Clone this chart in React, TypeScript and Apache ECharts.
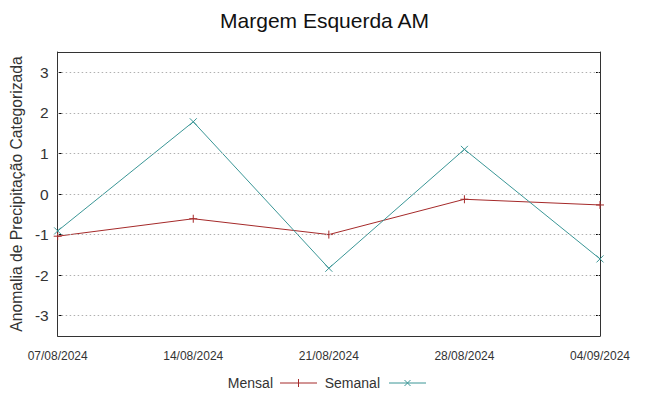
import React, { useEffect, useRef } from "react";
import * as echarts from "echarts";

const categories = ["07/08/2024", "14/08/2024", "21/08/2024", "28/08/2024", "04/09/2024"];
const mensal = [-1.04, -0.61, -1.0, -0.13, -0.27];
const semanal = [-0.91, 1.78, -1.83, 1.1, -1.6];
const yTicks = [-3, -2, -1, 0, 1, 2, 3];

const RED = "#a52a2a";
const TEAL = "#3a9696";
const FONT = "Liberation Sans, Arial, sans-serif";
const PLUS = "path://M0,5L10,5M5,0L5,10";
const CROSS = "path://M0,0L10,10M0,10L10,0";

export default function App() {
  const ref = useRef<HTMLDivElement>(null);
  useEffect(() => {
    const chart = echarts.init(ref.current!, null, { renderer: "svg" });
    chart.setOption({
      animation: false,
      textStyle: { fontFamily: FONT },
      title: {
        text: "Margem Esquerda AM",
        left: "center",
        top: 5,
        textStyle: { fontFamily: FONT, fontSize: 21, fontWeight: "normal", color: "#111" },
      },
      grid: { left: 50, right: 49, top: 52, bottom: 60 },
      xAxis: [
        {
          type: "category",
          data: categories,
          boundaryGap: false,
          axisLine: { onZero: false, lineStyle: { color: "#333", width: 1 } },
          axisTick: { show: false },
          axisLabel: { color: "#333", fontSize: 12, margin: 14, fontFamily: FONT },
          splitLine: { show: false },
        },
        {
          type: "category",
          data: categories,
          position: "top",
          boundaryGap: false,
          axisLine: { show: true, onZero: false, lineStyle: { color: "#333", width: 1 } },
          axisTick: { show: false },
          axisLabel: { show: false },
        },
      ],
      yAxis: [
        {
          type: "value",
          min: -3.5,
          max: 3.5,
          name: "Anomalia de Precipitação Categorizada",
          nameLocation: "middle",
          nameGap: 25,
          nameTextStyle: { fontSize: 15.7, color: "#333", fontFamily: FONT },
          axisLine: { show: true, onZero: false, lineStyle: { color: "#333", width: 1 } },
          axisTick: { show: true, inside: true, length: 4, customValues: yTicks, lineStyle: { color: "#000" } },
          axisLabel: { color: "#333", fontSize: 15.5, margin: 9, customValues: yTicks, fontFamily: FONT },
          splitLine: { show: false },
        },
        {
          type: "value",
          min: -3.5,
          max: 3.5,
          position: "right",
          axisLine: { show: true, onZero: false, lineStyle: { color: "#333", width: 1 } },
          axisTick: { show: true, inside: true, length: 4, customValues: yTicks, lineStyle: { color: "#000" } },
          axisLabel: { show: false },
          splitLine: { show: false },
        },
      ],
      series: [
        {
          name: "grid",
          type: "line",
          data: [],
          silent: true,
          markLine: {
            silent: true,
            symbol: "none",
            label: { show: false },
            lineStyle: { color: "#b0b0b0", type: [1.5, 2.5], width: 1 },
            data: yTicks.map((v) => ({ yAxis: v })),
          },
        },
        {
          name: "Mensal",
          type: "line",
          data: mensal,
          symbol: PLUS,
          symbolSize: 8,
          lineStyle: { color: RED, width: 1 },
          itemStyle: { color: "none", borderColor: RED, borderWidth: 1 },
        },
        {
          name: "Semanal",
          type: "line",
          data: semanal,
          symbol: CROSS,
          symbolSize: 7,
          lineStyle: { color: TEAL, width: 1 },
          itemStyle: { color: "none", borderColor: TEAL, borderWidth: 1 },
        },
      ],
      graphic: [
        { type: "text", x: 273, y: 383, style: { text: "Mensal", align: "right", verticalAlign: "middle", font: `14px ${FONT}`, fill: "#333" } },
        { type: "line", shape: { x1: 280, y1: 383, x2: 317, y2: 383 }, style: { stroke: RED, lineWidth: 1 } },
        { type: "line", shape: { x1: 298.5, y1: 379, x2: 298.5, y2: 387 }, style: { stroke: RED, lineWidth: 1 } },
        { type: "text", x: 380, y: 383, style: { text: "Semanal", align: "right", verticalAlign: "middle", font: `14px ${FONT}`, fill: "#333" } },
        { type: "line", shape: { x1: 389, y1: 383, x2: 426, y2: 383 }, style: { stroke: TEAL, lineWidth: 1 } },
        { type: "line", shape: { x1: 404.5, y1: 380, x2: 410.5, y2: 386 }, style: { stroke: TEAL, lineWidth: 1 } },
        { type: "line", shape: { x1: 404.5, y1: 386, x2: 410.5, y2: 380 }, style: { stroke: TEAL, lineWidth: 1 } },
      ],
    });
    return () => chart.dispose();
  }, []);
  return <div ref={ref} style={{ width: 649, height: 396, position: "absolute", left: 0, top: 0 }} />;
}
